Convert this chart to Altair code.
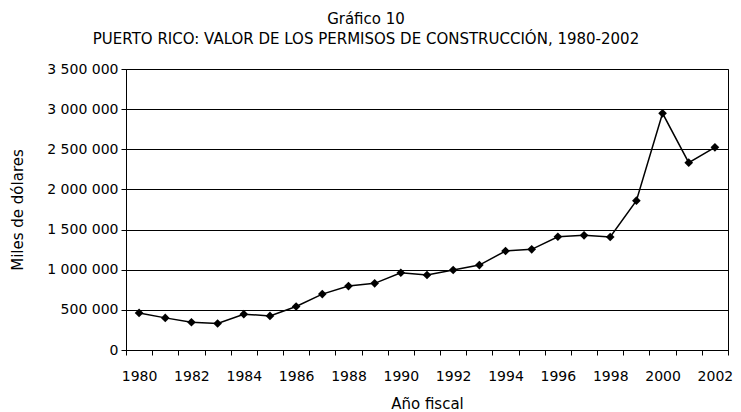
import altair as alt
import pandas as pd

years = list(range(1980, 2003))
values = [462000, 400000, 346000, 330000, 446000, 425000, 542000, 696000,
          796000, 830000, 962000, 934000, 996000, 1058000, 1233000, 1254000,
          1411000, 1428000, 1407000, 1860000, 2948000, 2333000, 2524000]
y_ticks = [0, 500000, 1000000, 1500000, 2000000, 2500000, 3000000, 3500000]
title_lines = ["Gráfico 10", "PUERTO RICO: VALOR DE LOS PERMISOS DE CONSTRUCCIÓN, 1980-2002"]

df = pd.DataFrame({"year": years, "value": values})

FONT = "DejaVu Sans"

x_enc = alt.X("year:O", title="Año fiscal",
              scale=alt.Scale(paddingInner=0, paddingOuter=0),
              axis=alt.Axis(labelAngle=0, tickBand="extent", labelOverlap=False,
                            labelExpr="datum.value % 2 == 0 ? datum.label : ''",
                            domainColor="black", tickColor="black", tickSize=5,
                            labelPadding=14, titlePadding=13, grid=False,
                            labelFontSize=14, titleFontSize=15,
                            labelFont=FONT, titleFont=FONT,
                            labelColor="black", titleColor="black",
                            titleFontWeight="normal"))
y_enc = alt.Y("value:Q", title="Miles de dólares",
              scale=alt.Scale(domain=[0, 3500000], nice=False),
              axis=alt.Axis(values=y_ticks, format=",d", grid=True,
                            gridColor="black", gridOpacity=1, gridWidth=1,
                            domainColor="black", tickColor="black", tickSize=5,
                            labelPadding=3, titlePadding=21,
                            labelFontSize=14, titleFontSize=15,
                            labelFont=FONT, titleFont=FONT,
                            labelColor="black", titleColor="black",
                            titleFontWeight="normal"))

base = alt.Chart(df)
line = base.mark_line(color="black", strokeWidth=1.5).encode(x=x_enc, y=y_enc)
pts = base.mark_point(shape="diamond", filled=True, color="black", size=75, opacity=1).encode(
    x="year:O", y="value:Q")

chart = (line + pts).properties(
    width=602, height=281,
    autosize=alt.AutoSizeParams(type="none"),
    padding={"left": 118, "top": 61, "right": 5, "bottom": 62},
    title=alt.TitleParams(text=title_lines, anchor="middle", dx=-61, offset=15,
                          font=FONT, fontSize=15, fontWeight="normal",
                          color="black", lineHeight=20),
).configure(
    locale={"number": {"decimal": ",", "thousands": " ", "grouping": [3],
                       "currency": ["", ""]}}
).configure_view(stroke="black", strokeWidth=1)

chart.save("out.html", embed_options={"renderer": "svg", "actions": False})
